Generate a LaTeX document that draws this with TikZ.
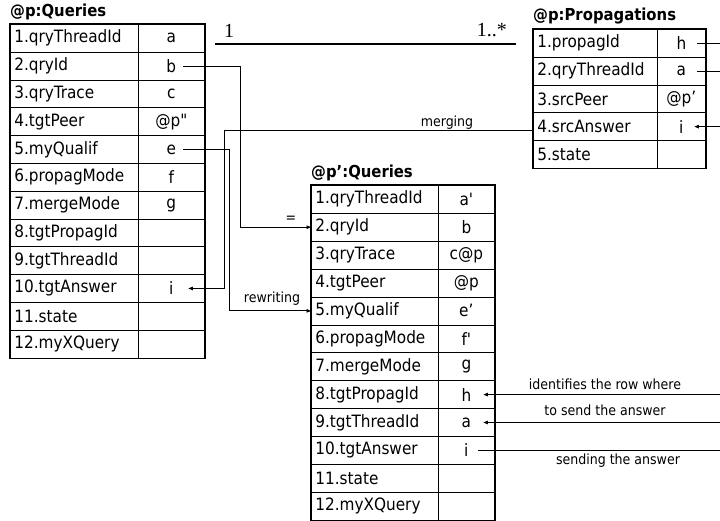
\documentclass[tikz,border=0pt]{standalone}
\usepackage{fontspec}
\setmainfont{DejaVu Sans Condensed}
\newfontfamily\numfont{Liberation Serif}
\usetikzlibrary{arrows.meta,calc}
\begin{document}
\begin{tikzpicture}[x=1pt,y=-1pt,
  cellfont/.style={font=\fontsize{17}{19}\selectfont},
  namecell/.style={draw=black, line width=0.7pt, anchor=north west, inner xsep=4pt, inner ysep=0pt, align=left, cellfont},
  valcell/.style={draw=black, line width=0.7pt, anchor=north west, inner sep=0pt, align=center, cellfont},
  frame/.style={draw=black, line width=1.6pt},
  title/.style={anchor=west, inner sep=0pt, font=\fontsize{16.5}{18}\selectfont\bfseries},
  conn/.style={draw=black, line width=0.8pt},
  tip/.style={-{Triangle[length=4.5pt,width=3.5pt]}},
  note/.style={inner sep=0pt, font=\fontsize{14}{16}\selectfont},
  mult/.style={inner sep=0pt, font=\fontsize{20}{22}\numfont},
]
\useasboundingbox (0,0) rectangle (720,521);

% ---- @p:Queries
\node[title] (tq) at (10,12) {@p:Queries};
\foreach \n/\v [count=\i] in {1.qryThreadId/a,2.qryId/b,3.qryTrace/c,4.tgtPeer/@p\textquotedbl,5.myQualif/e,6.propagMode/f,7.mergeMode/g,8.tgtPropagId/,9.tgtThreadId/,10.tgtAnswer/i,11.state/,12.myXQuery/}{
  \node[namecell, text width=120pt, minimum height=27.8pt] (qn\i) at (10,{24+(\i-1)*27.8}) {\n};
  \node[valcell, text width=66pt, minimum height=27.8pt] (qv\i) at (138,{24+(\i-1)*27.8}) {\v};
}
\draw[frame] (qn1.north west) rectangle (qv12.south east);

% ---- @p:Propagations
\node[title] (tp) at (533,16) {@p:Propagations};
\foreach \n/\v [count=\i] in {1.propagId/h,2.qryThreadId/a,3.srcPeer/@p’,4.srcAnswer/i,5.state/}{
  \node[namecell, text width=116pt, minimum height=27.8pt] (pn\i) at (533,{29+(\i-1)*27.8}) {\n};
  \node[valcell, text width=48pt, minimum height=27.8pt] (pv\i) at (657,{29+(\i-1)*27.8}) {\v};
}
\draw[frame] (pn1.north west) rectangle (pv5.south east);

% ---- @p':Queries
\node[title] (tr) at (311,173) {@p’:Queries};
\foreach \n/\v [count=\i] in {1.qryThreadId/a\textquotesingle,2.qryId/b,3.qryTrace/c@p,4.tgtPeer/@p,5.myQualif/e’,6.propagMode/f\textquotesingle,7.mergeMode/g,8.tgtPropagId/h,9.tgtThreadId/a,10.tgtAnswer/i,11.state/,12.myXQuery/}{
  \node[namecell, text width=119pt, minimum height=27.9pt] (rn\i) at (311,{185+(\i-1)*27.9}) {\n};
  \node[valcell, text width=56pt, minimum height=27.9pt] (rv\i) at (438,{185+(\i-1)*27.9}) {\v};
}
\draw[frame] (rn1.north west) rectangle (rv12.south east);

% ---- association between Queries and Propagations
\coordinate (assocL) at (215,44);
\coordinate (assocR) at (516,44);
\draw[line width=1.6pt] (assocL) -- (assocR);
\node[mult, anchor=south west] (m1) at (224,38) {1};
\node[mult, anchor=south east] (m2) at (507,37) {1..*};

% ---- copying the query id
\draw[conn,tip] ([xshift=12pt]qv2.center) -| ([xshift=-71pt]rn2.west) -- (rn2.west);
\node[note] (eq) at (291,219) {=};

% ---- rewriting the qualification
\draw[conn,tip] ([xshift=12pt]qv5.center) -| ([xshift=-82pt]rn5.west) -- (rn5.west);
\node[note] (rw) at (272,299) {rewriting};

% ---- merging the answer back
\draw[conn,tip] ([yshift=-4pt]pn4.west) -| ([xshift=53pt]qv10.center) -- ([xshift=17pt]qv10.center);
\node[note] (mg) at (447,123) {merging};

% ---- links leaving on the right
\coordinate (rim) at (720,0);
\draw[conn] ([xshift=16pt]pv1.center) -- (pv1.center -| rim);
\draw[conn] ([xshift=16pt]pv2.center) -- (pv2.center -| rim);
\draw[conn,tip] (pv4.center -| rim) -- ([xshift=13pt]pv4.center);

\draw[conn,tip] (rv8.center -| rim) -- ([xshift=17pt]rv8.center);
\draw[conn,tip] (rv9.center -| rim) -- ([xshift=17pt]rv9.center);
\draw[conn] ([xshift=12pt]rv10.center) -- (rv10.center -| rim);
\node[note] (n1) at (605,384) {identifies the row where};
\node[note] (n2) at (605,410) {to send the answer};
\node[note] (n3) at (618,461) {sending the answer};
\end{tikzpicture}
\end{document}
